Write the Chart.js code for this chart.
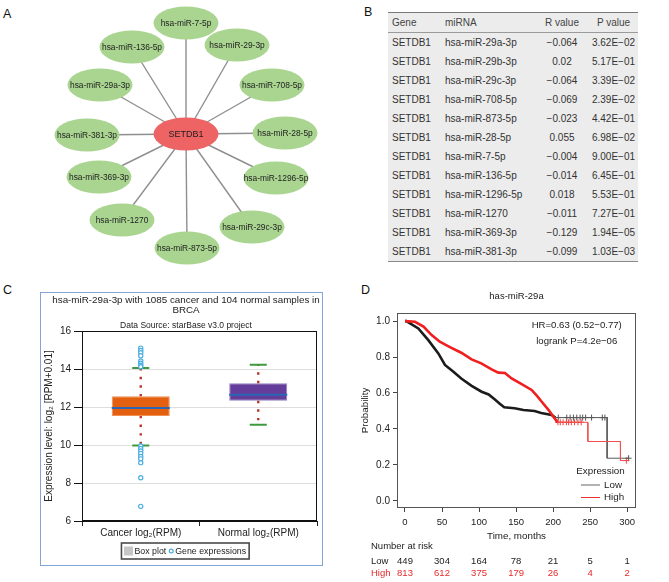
<!DOCTYPE html>
<html><head><meta charset="utf-8">
<script src="https://cdn.jsdelivr.net/npm/chart.js@4.4.1/dist/chart.umd.min.js"></script>
<style>
html,body{margin:0;padding:0;background:#fff;}
body{width:669px;height:582px;position:relative;overflow:hidden;font-family:"Liberation Sans",Arial,sans-serif;}
.lbl{position:absolute;font-size:12.5px;color:#111;line-height:1;}
canvas{position:absolute;}
#cframe{position:absolute;left:40px;top:292px;width:283px;height:274px;box-sizing:border-box;border:1.5px solid #84a3d6;pointer-events:none;}
#tbl{position:absolute;left:388px;top:12px;width:250px;border-collapse:collapse;background:#ececec;font-size:10px;color:#333;table-layout:fixed;}
#tbl th,#tbl td{height:19px;padding:0 0 0 4px;font-weight:normal;white-space:nowrap;line-height:19px;text-align:left;}
#tbl th{border-top:1.5px solid #7a7a7a;border-bottom:1.5px solid #9a9a9a;color:#444;}
#tbl .c{text-align:center;padding:0;}
#tbl tbody tr:last-child td{border-bottom:1.5px solid #8a8a8a;}
</style></head>
<body>
<div class="lbl" style="left:3px;top:7.7px">A</div>
<div class="lbl" style="left:364px;top:6.1px">B</div>
<div class="lbl" style="left:3px;top:284.4px">C</div>
<div class="lbl" style="left:361px;top:284.4px">D</div>
<canvas id="cA" width="340" height="285" style="left:0;top:0"></canvas>
<table id="tbl"><colgroup><col style="width:53px"><col style="width:94px"><col style="width:54px"><col style="width:49px"></colgroup>
<thead><tr id="th"></tr></thead><tbody id="tb"></tbody></table>
<canvas id="cC" width="281" height="272" style="left:41px;top:293px"></canvas>
<div id="cframe"></div>
<canvas id="cD" width="329" height="297" style="left:340px;top:285px"></canvas>
<script>
// ================= DATA =================
// Panel A: network
const hubGene = 'SETDB1';
const mirNodes = ['hsa-miR-7-5p','hsa-miR-29-3p','hsa-miR-708-5p','hsa-miR-28-5p','hsa-miR-1296-5p','hsa-miR-29c-3p','hsa-miR-873-5p','hsa-miR-1270','hsa-miR-369-3p','hsa-miR-381-3p','hsa-miR-29a-3p','hsa-miR-136-5p'];
const nodeX = [0.00, 0.51, 0.86, 0.99, 0.90, 0.66, 0.01, -0.64, -0.87, -0.99, -0.86, -0.54];
const nodeY = [1.11, 0.89, 0.49, 0.01, -0.44, -0.93, -1.14, -0.86, -0.43, -0.01, 0.49, 0.87];

// Panel B: table
const tblHeader = ['Gene','miRNA','R value','P value'];
const tblGene = ['SETDB1','SETDB1','SETDB1','SETDB1','SETDB1','SETDB1','SETDB1','SETDB1','SETDB1','SETDB1','SETDB1','SETDB1'];
const tblMirna = ['hsa-miR-29a-3p','hsa-miR-29b-3p','hsa-miR-29c-3p','hsa-miR-708-5p','hsa-miR-873-5p','hsa-miR-28-5p','hsa-miR-7-5p','hsa-miR-136-5p','hsa-miR-1296-5p','hsa-miR-1270','hsa-miR-369-3p','hsa-miR-381-3p'];
const tblR = [-0.064, 0.02, -0.064, -0.069, -0.023, 0.055, -0.004, -0.014, 0.018, -0.011, -0.129, -0.099];
const tblP = [3.62e-2, 5.17e-1, 3.39e-2, 2.39e-2, 4.42e-1, 6.98e-2, 9.00e-1, 6.45e-1, 5.53e-1, 7.27e-1, 1.94e-5, 1.03e-3];

// Panel C: box plot
const titleC = ['hsa-miR-29a-3p with 1085 cancer and 104 normal samples in', 'BRCA'];
const subtitleC = 'Data Source: starBase v3.0 project';
const yTitleC = 'Expression level: log₂ [RPM+0.01]';
const boxCategories = ['Cancer log₂(RPM)', 'Normal log₂(RPM)'];
const boxQ1 = [11.53, 12.33];
const boxQ3 = [12.56, 13.25];
const boxMedian = [11.95, 12.65];
const whiskerLow = [9.98, 11.06];
const whiskerHigh = [14.05, 14.23];
const cancerOutliers = [15.1, 14.98, 14.86, 14.7, 14.42, 14.3, 14.2, 14.12, 9.95, 9.82, 9.69, 9.56, 9.4, 9.27, 9.07, 8.28, 6.77];
const legendC = ['Box plot', 'Gene expressions'];

// Panel D: Kaplan-Meier
const titleD = 'has-miR-29a';
const hrText = 'HR=0.63 (0.52−0.77)';
const logrankText = 'logrank P=4.2e−06';
const lowT = [0, 1.8, 18, 31.5, 45, 54, 65, 76, 90, 103.5, 113, 121, 128, 134, 148, 160, 175, 184, 198, 203, 273, 273, 302];
const lowS = [1, 1.0, 0.959, 0.894, 0.82, 0.756, 0.72, 0.68, 0.64, 0.607, 0.592, 0.565, 0.54, 0.52, 0.515, 0.505, 0.5, 0.488, 0.478, 0.463, 0.463, 0.237, 0.237];
const highT = [0, 13.5, 25, 36, 47, 60, 76, 90, 103, 117, 126, 135, 144, 157, 171, 178, 185, 194, 202, 206, 247, 247, 291, 291, 300];
const highS = [1, 0.996, 0.969, 0.922, 0.885, 0.857, 0.824, 0.787, 0.765, 0.731, 0.713, 0.711, 0.681, 0.65, 0.617, 0.585, 0.55, 0.505, 0.459, 0.437, 0.437, 0.33, 0.33, 0.224, 0.224];
const lowCensorT = [207, 218.5, 223, 227.5, 232, 236.5, 240, 244, 252, 266.5, 270, 302];
const lowCensorS = [0.463, 0.463, 0.463, 0.463, 0.463, 0.463, 0.463, 0.463, 0.463, 0.463, 0.463, 0.237];
const highCensorT = [206.6, 209.7, 213.5, 218, 221, 224.7, 229, 233.6, 238, 299];
const highCensorS = [0.437, 0.437, 0.437, 0.437, 0.437, 0.437, 0.437, 0.437, 0.437, 0.224];
const yTicksD = [0, 0.2, 0.4, 0.6, 0.8, 1.0];
const riskTimes = [0, 50, 100, 150, 200, 250, 300];
const riskLow = [449, 304, 164, 78, 21, 5, 1];
const riskHigh = [813, 612, 375, 179, 26, 4, 2];
const legendD = ['Expression', 'Low', 'High'];

// ================= COMMON =================
const FONT = '"Liberation Sans", Arial, sans-serif';
const F = s => s + 'px ' + FONT;
Chart.defaults.font.family = FONT;
Chart.defaults.color = '#222';
const baseOpts = {responsive:false, animation:false, events:[], plugins:{legend:{display:false}, tooltip:{enabled:false}}};

// ================= PANEL A =================
function ellipseImg(w, h, fill){
  const c = document.createElement('canvas'); c.width = w; c.height = h;
  const g = c.getContext('2d'); g.fillStyle = fill; g.beginPath();
  g.ellipse(w/2, h/2, w/2-0.5, h/2-0.5, 0, 0, Math.PI*2); g.fill(); return c;
}
const greenImg = ellipseImg(66, 34, '#a9d590');
const redImg = ellipseImg(66, 34, '#ee6464');
const edgeSets = mirNodes.map((n, i) => ({type:'line', data:[{x:0,y:0},{x:nodeX[i],y:nodeY[i]}], borderColor:'#8f8f8f', borderWidth:1.4, pointRadius:0, order:3}));
const nodeLabels = {id:'nodeLabels', afterDatasetsDraw(chart){
  const ctx = chart.ctx; ctx.save(); ctx.textAlign='center'; ctx.textBaseline='middle'; ctx.fillStyle='#1e1e1e';
  [0,1].forEach(di => {
    const meta = chart.getDatasetMeta(di), ds = chart.data.datasets[di];
    ctx.font = di === 1 ? F(9) : F(8.4);
    meta.data.forEach((pt, i) => ctx.fillText(ds.data[i].name, pt.x, pt.y + 0.5));
  });
  ctx.restore();
}};
new Chart(document.getElementById('cA'), {
  type:'scatter',
  data:{datasets:[
    {label:'miRNA', data: mirNodes.map((n,i)=>({x:nodeX[i], y:nodeY[i], name:n})), pointStyle:greenImg, pointRadius:1, order:1},
    {label:'gene', data:[{x:0, y:0, name:hubGene}], pointStyle:redImg, pointRadius:1, order:0},
    ...edgeSets
  ]},
  options:Object.assign({}, baseOpts, {layout:{padding:0, autoPadding:false}, scales:{x:{display:false, min:-1.86, max:1.54}, y:{display:false, min:-1.51, max:1.34}}}),
  plugins:[nodeLabels]
});

// ================= PANEL B =================
const fmtR = v => v < 0 ? '−' + Math.abs(v) : String(v);
const fmtP = v => { const [m, e] = v.toExponential(2).split('e'); return m + 'E' + (e[0] === '-' ? '−' : '+') + String(Math.abs(+e)).padStart(2, '0'); };
document.getElementById('th').innerHTML = tblHeader.map((h,i)=>'<th class="'+(i>1?'c':'')+'">'+h+'</th>').join('');
document.getElementById('tb').innerHTML = tblGene.map((g,i)=>'<tr><td>'+g+'</td><td>'+tblMirna[i]+'</td><td class="c">'+fmtR(tblR[i])+'</td><td class="c">'+fmtP(tblP[i])+'</td></tr>').join('');

// ================= PANEL C =================
const whiskerSets = [];
boxCategories.forEach((c, i) => {
  [[boxQ3[i], whiskerHigh[i]], [boxQ1[i], whiskerLow[i]]].forEach(([a, b]) => {
    whiskerSets.push({type:'line', data:[{x:c,y:a},{x:c,y:b}], borderColor:'#b8342a', borderWidth:2.4, borderDash:[2.4,6.2], borderCapStyle:'butt', pointRadius:0, order:4});
  });
});
const cExtras = {id:'cExtras', afterDraw(chart){
  const {ctx, chartArea:a} = chart; ctx.save();
  ctx.strokeStyle='#111'; ctx.lineWidth=1;
  ctx.strokeRect(Math.round(a.left)+0.5, Math.round(a.top)+0.5, Math.round(a.right-a.left)-1, Math.round(a.bottom-a.top)-1);
  ctx.fillStyle='#222'; ctx.textAlign='center'; ctx.textBaseline='middle';
  const cx = chart.width/2 + 4.5;
  ctx.font = F(9.8); ctx.fillText(titleC[0], cx, 7); ctx.fillText(titleC[1], cx, 17);
  ctx.font = F(8.5); ctx.fillText(subtitleC, cx, 32.7);
  // legend
  ctx.font = F(8.8);
  const w1 = ctx.measureText(legendC[0]).width, w2 = ctx.measureText(legendC[1]).width;
  const total = 2.5 + 9 + 1.5 + w1 + 2.5 + 5 + 1.5 + w2 + 3;
  const top = 250, h = 16; let x = chart.width/2 + 3.8 - total/2;
  ctx.fillStyle='#fff'; ctx.fillRect(x, top, total, h);
  ctx.strokeStyle='#4a4a4a'; ctx.lineWidth=1.6; ctx.strokeRect(x, top, total, h);
  x += 2.5; ctx.fillStyle='#c6c6c6'; ctx.fillRect(x, top+3.5, 9, 9); x += 9 + 1.5;
  ctx.fillStyle='#222'; ctx.textAlign='left'; ctx.fillText(legendC[0], x, top+h/2+0.5); x += w1 + 2.5;
  ctx.beginPath(); ctx.arc(x+2.5, top+h/2, 1.9, 0, Math.PI*2); ctx.strokeStyle='#4aaee2'; ctx.lineWidth=1.2; ctx.stroke(); x += 5 + 1.5;
  ctx.fillStyle='#222'; ctx.fillText(legendC[1], x, top+h/2+0.5);
  ctx.restore();
}};
new Chart(document.getElementById('cC'), {
  type:'bar',
  data:{labels:boxCategories, datasets:[
    {type:'bar', label:legendC[0], data: boxCategories.map((c,i)=>[boxQ1[i], boxQ3[i]]), backgroundColor:['#e2600f','#643c9a'], borderColor:['#f19052','#9280c4'], borderWidth:1, borderSkipped:false, barPercentage:0.494, categoryPercentage:1, order:5},
    ...whiskerSets,
    {type:'line', label:'median', data: boxCategories.map((c,i)=>({x:c, y:boxMedian[i]})), showLine:false, pointStyle:'line', pointRadius:29, pointBorderColor:'#2a66b4', pointBorderWidth:2, borderColor:'#2a66b4', order:2},
    {type:'line', label:'caps', data: boxCategories.flatMap((c,i)=>[{x:c, y:whiskerHigh[i]}, {x:c, y:whiskerLow[i]}]), showLine:false, pointStyle:'line', pointRadius:8.5, pointBorderColor:'#3d9a3d', pointBorderWidth:2, borderColor:'#3d9a3d', order:2},
    {type:'line', label:legendC[1], data: cancerOutliers.map(v=>({x:boxCategories[0], y:v})), showLine:false, pointStyle:'circle', pointRadius:2.1, pointBorderColor:'#4aaee2', pointBackgroundColor:'#fff', pointBorderWidth:1.2, borderColor:'#4aaee2', order:1}
  ]},
  options:Object.assign({}, baseOpts, {
    layout:{padding:{top:38, right:5, left:0, bottom:0}, autoPadding:false},
    scales:{
      x:{grid:{offset:true, drawOnChartArea:false, tickLength:5, tickColor:'#222'}, border:{color:'#111'}, ticks:{font:{size:10}, color:'#222', padding:1}, afterFit:s=>{s.height=44;}},
      y:{min:6, max:16, ticks:{stepSize:2, font:{size:10}, color:'#222', padding:3}, grid:{color:'#dedede', tickColor:'#111', tickLength:8}, border:{color:'#111'},
         title:{display:true, text:yTitleC, font:{size:10, lineHeight:1.2}, color:'#222', padding:{top:2, bottom:0}}, afterFit:s=>{s.width=41;}}
    }
  }),
  plugins:[cExtras]
});

// ================= PANEL D =================
const dExtras = {id:'dExtras', afterDraw(chart){
  const {ctx, chartArea:a, scales:{x}} = chart; ctx.save();
  ctx.strokeStyle='#555'; ctx.lineWidth=1;
  ctx.strokeRect(Math.round(a.left)+0.5, Math.round(a.top)+0.5, Math.round(a.right-a.left)-1, Math.round(a.bottom-a.top)-1);
  ctx.fillStyle='#222'; ctx.textAlign='center'; ctx.textBaseline='middle';
  ctx.font = F(9.5); ctx.fillText(titleD, (a.left+a.right)/2, a.top-17);
  ctx.font = F(9.6); ctx.fillText(hrText, a.right-59.3, a.top+12.7); ctx.fillText(logrankText, a.right-59.3, a.top+28.7);
  // legend
  ctx.font = F(9.8); ctx.fillText(legendD[0], a.right-35.5, a.bottom-37);
  ctx.lineWidth = 1;
  ctx.strokeStyle='#666'; ctx.beginPath(); ctx.moveTo(a.right-55, a.bottom-23); ctx.lineTo(a.right-36, a.bottom-23); ctx.stroke();
  ctx.strokeStyle='#f03030'; ctx.beginPath(); ctx.moveTo(a.right-55, a.bottom-10.5); ctx.lineTo(a.right-36, a.bottom-10.5); ctx.stroke();
  ctx.textAlign='left'; ctx.fillText(legendD[1], a.right-32, a.bottom-23); ctx.fillText(legendD[2], a.right-32, a.bottom-10.5);
  // number at risk
  ctx.font = F(9.5); ctx.fillText('Number at risk', 31, a.bottom+38);
  ctx.fillText('Low', 31, a.bottom+53);
  ctx.fillStyle='#e8282a'; ctx.fillText('High', 31, a.bottom+65);
  ctx.textAlign='center';
  riskTimes.forEach((t,i) => {
    const px = x.getPixelForValue(t);
    ctx.fillStyle='#222'; ctx.fillText(String(riskLow[i]), px, a.bottom+53);
    ctx.fillStyle='#e8282a'; ctx.fillText(String(riskHigh[i]), px, a.bottom+65);
  });
  ctx.restore();
}};
const thick = (cut, w1, w2) => c => (c.p1.parsed.x <= cut ? w1 : w2);
new Chart(document.getElementById('cD'), {
  type:'line',
  data:{datasets:[
    {label:'High', data: highT.map((t,i)=>({x:t, y:highS[i]})), borderColor:'#f01e1e', borderWidth:2.6, pointRadius:0, tension:0,
     segment:{borderWidth: thick(206.5, 2.6, 1), borderColor: thick(206.5, '#f01e1e', '#f25050')}},
    {label:'Low', data: lowT.map((t,i)=>({x:t, y:lowS[i]})), borderColor:'#1c1c1c', borderWidth:2.6, pointRadius:0, tension:0,
     segment:{borderWidth: thick(203.5, 2.6, 1), borderColor: thick(203.5, '#1c1c1c', '#5a5a5a')}},
    {label:'High censored', data: highCensorT.map((t,i)=>({x:t, y:highCensorS[i]})), showLine:false, pointStyle:'cross', pointRadius:3, pointBorderColor:'#f04040', pointBorderWidth:1, borderColor:'#f04040'},
    {label:'Low censored', data: lowCensorT.map((t,i)=>({x:t, y:lowCensorS[i]})), showLine:false, pointStyle:'cross', pointRadius:3, pointBorderColor:'#555', pointBorderWidth:1, borderColor:'#555'}
  ]},
  options:Object.assign({}, baseOpts, {
    layout:{padding:{top:28, right:33, left:0, bottom:0}, autoPadding:false},
    scales:{
      x:{type:'linear', min:-10.8, max:312, afterBuildTicks:s=>{s.ticks = riskTimes.map(v=>({value:v}));},
         ticks:{font:{size:9.5}, color:'#222', padding:4.5, maxRotation:0, autoSkip:false},
         grid:{drawOnChartArea:false, tickLength:4, tickColor:'#444'}, border:{display:false},
         title:{display:true, text:'Time, months', font:{size:9.8, lineHeight:1.2}, color:'#222', padding:{top:0, bottom:40}},
         afterFit:s=>{s.height=74;}},
      y:{min:-0.04, max:1.045, afterBuildTicks:s=>{s.ticks = yTicksD.map(v=>({value:v}));},
         ticks:{callback:v=>Number(v).toFixed(1), font:{size:10}, color:'#222', padding:3},
         grid:{drawOnChartArea:false, tickLength:4, tickColor:'#444'}, border:{display:false},
         title:{display:true, text:'Probability', font:{size:9.8, lineHeight:1.2}, color:'#222', padding:{top:19, bottom:0}},
         afterFit:s=>{s.width=57;}}
    }
  }),
  plugins:[dExtras]
});
</script>
</body></html>
